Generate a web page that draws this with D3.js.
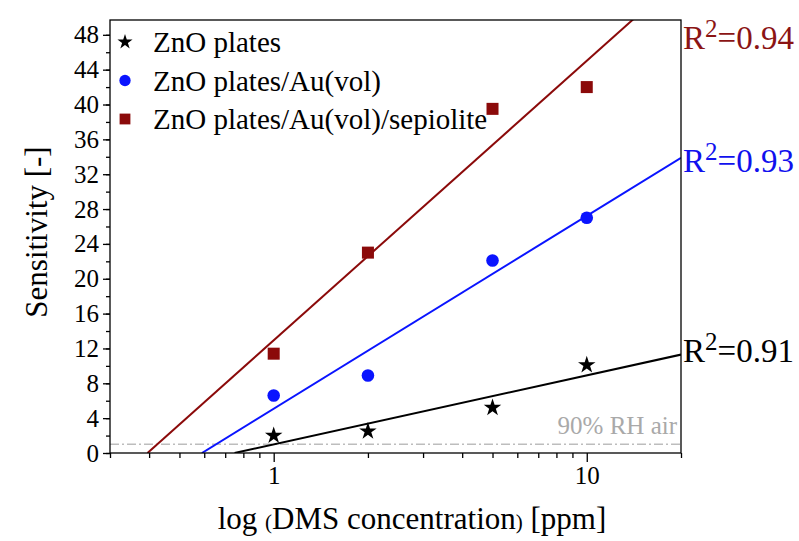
<!DOCTYPE html>
<html>
<head>
<meta charset="utf-8">
<script src="https://cdn.jsdelivr.net/npm/d3@7"></script>
<style>
  body { margin: 0; background: #fff; }
  svg text { font-family: "Liberation Serif", "DejaVu Serif", serif; }
</style>
</head>
<body>
<script>

// Data
var concentrations = [1, 2, 5, 10]   // ppm
var znoPlates = [2.0, 2.5, 5.2, 10.1]
var znoAu = [6.6, 8.9, 22.1, 27.0]
var znoAuSep = [11.4, 23.0, 39.5, 42.0]
var seriesNames = ['ZnO plates', 'ZnO plates/Au(vol)', 'ZnO plates/Au(vol)/sepiolite']
var r2Labels = ['0.91', '0.93', '0.94']
var yTickValues = d3.range(0, 49, 4)
var yMinorValues = d3.range(0, 50, 2)
var xTickLabels = [1, 10]
var xMinorValues = [0.3, 0.4, 0.5, 0.6, 0.7, 0.8, 0.9, 2, 3, 4, 5, 6, 7, 8, 9, 20]
var rhLevel = 1

var series = [
  { name: seriesNames[0], values: znoPlates, color: '#000000', labelColor: '#000000', r2: r2Labels[0], shape: 'star', labelY: 362 },
  { name: seriesNames[1], values: znoAu, color: '#0a14ff', labelColor: '#1010ee', r2: r2Labels[1], shape: 'circle', labelY: 172 },
  { name: seriesNames[2], values: znoAuSep, color: '#8b0a0a', labelColor: '#8b1414', r2: r2Labels[2], shape: 'square', labelY: 49 }
]

// plot box (window.top is read only, so no plain "top")
var W = 799, H = 541
var box = { left: 110, right: 681, top: 20, bottom: 453 }

var xScale = d3.scaleLog().domain([0.3, 20]).range([box.left, box.right])
var yScale = d3.scaleLinear().domain([0, 49.7]).range([box.bottom, box.top])

var svg = d3.select('body').append('svg')
  .attr('width', W)
  .attr('height', H)

svg.append('defs').append('clipPath').attr('id', 'plotClip')
  .append('rect')
  .attr('x', box.left).attr('y', box.top)
  .attr('width', box.right - box.left).attr('height', box.bottom - box.top)

// 90% RH air baseline
svg.append('line')
  .attr('x1', box.left).attr('x2', box.right)
  .attr('y1', yScale(rhLevel)).attr('y2', yScale(rhLevel))
  .attr('stroke', '#bdbdbd')
  .attr('stroke-width', 1.5)
  .attr('stroke-dasharray', '9,3,2,3')

svg.append('text')
  .attr('x', box.right - 4).attr('y', yScale(rhLevel) - 10)
  .attr('text-anchor', 'end')
  .style('font-size', '25px')
  .attr('fill', '#a9a9a9')
  .text('90% RH air')

// least squares fit of S vs log10(c)
function fit(values) {
  var xs = concentrations.map(function(c) { return Math.log10(c) })
  var mx = d3.mean(xs), my = d3.mean(values)
  var sxy = d3.sum(xs, function(x, i) { return (x - mx) * (values[i] - my) })
  var sxx = d3.sum(xs, function(x) { return (x - mx) * (x - mx) })
  var b = sxy / sxx
  return { a: my - b * mx, b: b }
}

var plot = svg.append('g').attr('clip-path', 'url(#plotClip)')

series.forEach(function(s) {
  var f = fit(s.values)
  var c0 = Math.pow(10, -f.a / f.b)
  var c1 = 20
  var pts = [c0, c1].map(function(c) { return [c, f.a + f.b * Math.log10(c)] })
  plot.append('path')
    .datum(pts)
    .attr('fill', 'none')
    .attr('stroke', s.color)
    .attr('stroke-width', 2)
    .attr('d', d3.line()
      .x(function(d) { return xScale(d[0]) })
      .y(function(d) { return yScale(d[1]) }))
})

function marker(g, shape, color, scale) {
  if (shape === 'star') {
    g.append('path').attr('d', d3.symbol(d3.symbolStar, 95 * scale)()).attr('fill', color)
  } else if (shape === 'circle') {
    g.append('circle').attr('r', 6.3 * scale).attr('fill', color)
  } else {
    var h = 6 * scale
    g.append('rect').attr('x', -h).attr('y', -h).attr('width', 2 * h).attr('height', 2 * h).attr('fill', color)
  }
}

// points
series.forEach(function(s) {
  s.values.forEach(function(v, i) {
    var g = svg.append('g')
      .attr('transform', 'translate(' + xScale(concentrations[i]) + ',' + yScale(v) + ')')
    marker(g, s.shape, s.color, 1)
  })
})

// box
svg.append('rect')
  .attr('x', box.left).attr('y', box.top)
  .attr('width', box.right - box.left).attr('height', box.bottom - box.top)
  .attr('fill', 'none')
  .attr('stroke', '#000')
  .attr('stroke-width', 1.3)

// Y axis
var yAxis = d3.axisLeft(yScale).tickValues(yTickValues).tickSize(7).tickPadding(4)
var yG = svg.append('g').attr('transform', 'translate(' + box.left + ',0)').call(yAxis)
yG.select('.domain').remove()
yG.selectAll('text').style('font-size', '25px').attr('fill', '#000')
yG.selectAll('line').attr('stroke-width', 1.3)
svg.append('g').attr('transform', 'translate(' + box.left + ',0)')
  .call(d3.axisLeft(yScale).tickValues(yMinorValues).tickSize(4).tickFormat(''))
  .call(function(g) { g.select('.domain').remove() })
  .selectAll('line').attr('stroke-width', 1.3)

// X axis
var xAxis = d3.axisBottom(xScale).tickValues(xTickLabels).tickSize(9).tickPadding(4).tickFormat(d3.format('d'))
var xG = svg.append('g').attr('transform', 'translate(0,' + box.bottom + ')').call(xAxis)
xG.select('.domain').remove()
xG.selectAll('text').style('font-size', '25px').attr('fill', '#000')
xG.selectAll('line').attr('stroke-width', 1.3)
svg.append('g').attr('transform', 'translate(0,' + box.bottom + ')')
  .call(d3.axisBottom(xScale).tickValues(xMinorValues).tickSize(5).tickFormat(''))
  .call(function(g) { g.select('.domain').remove() })
  .selectAll('line').attr('stroke-width', 1.3)

// axis titles
svg.append('text')
  .attr('transform', 'translate(47,232) rotate(-90)')
  .attr('text-anchor', 'middle')
  .style('font-size', '31px')
  .text('Sensitivity [-]')

var xt = svg.append('text')
  .attr('x', 412).attr('y', 529)
  .attr('text-anchor', 'middle')
  .style('font-size', '31px')
xt.append('tspan').text('log ')
xt.append('tspan').style('font-size', '21px').text('(')
xt.append('tspan').text('DMS concentration')
xt.append('tspan').style('font-size', '21px').text(')')
xt.append('tspan').text(' [ppm]')

// R^2 labels
series.forEach(function(s) {
  var t = svg.append('text')
    .attr('x', box.right + 2).attr('y', s.labelY)
    .style('font-size', '33px')
    .attr('fill', s.labelColor)
  t.append('tspan').text('R')
  t.append('tspan').style('font-size', '25px').attr('dy', -12).text('2')
  t.append('tspan').attr('dy', 12).text('=' + s.r2)
})

// legend
series.forEach(function(s, i) {
  var y = 42 + i * 38.5
  var g = svg.append('g').attr('transform', 'translate(125,' + y + ')')
  marker(g, s.shape, s.color, s.shape === 'star' ? 0.75 : 0.9)
  svg.append('text')
    .attr('x', 153).attr('y', y + 10)
    .style('font-size', '29px')
    .text(s.name)
})

</script>
</body>
</html>
